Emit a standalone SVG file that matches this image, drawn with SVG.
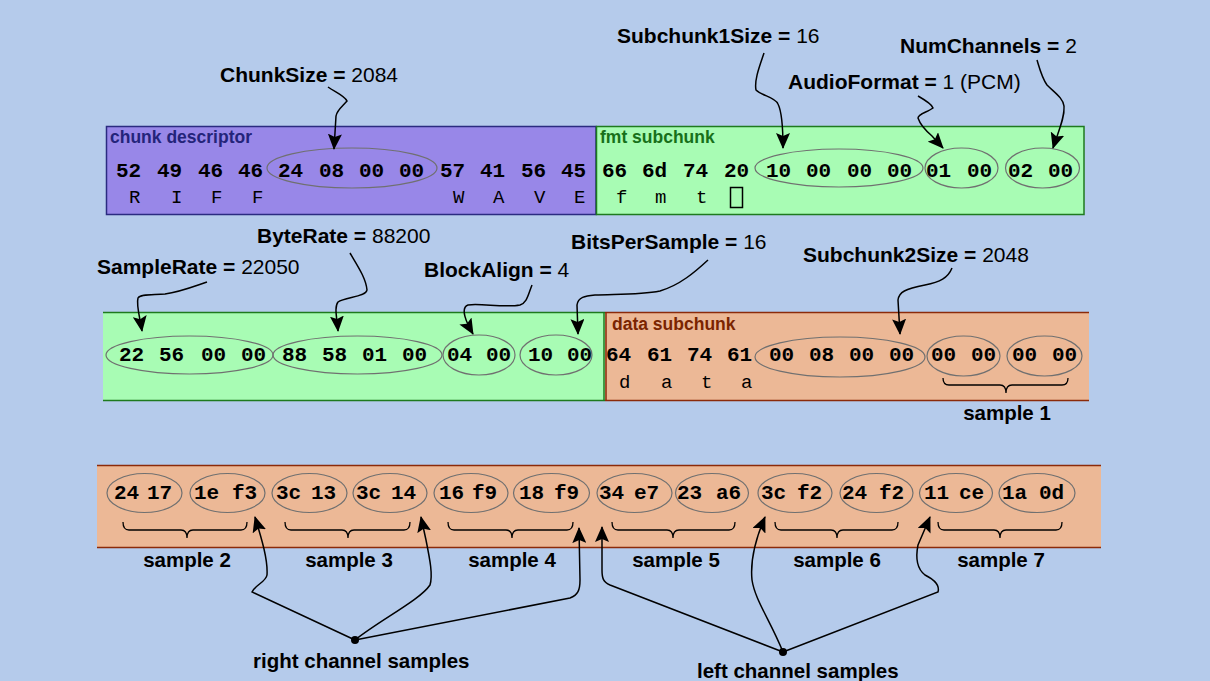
<svg xmlns="http://www.w3.org/2000/svg" width="1210" height="681" viewBox="0 0 1210 681">
<defs>
<style>
.hex{font-family:"Liberation Mono","Courier New",monospace;font-weight:bold;font-size:21px;fill:#000}
.chr{font-family:"Liberation Mono","Courier New",monospace;font-size:19px;fill:#000}
.lbl{font-family:"Liberation Sans",Arial,sans-serif;font-weight:bold;font-size:21px;fill:#000}
.lbl tspan.v{font-weight:normal}
.smp{font-family:"Liberation Sans",Arial,sans-serif;font-weight:bold;font-size:20.5px;fill:#000}
.ttl{font-family:"Liberation Sans",Arial,sans-serif;font-weight:bold;font-size:17.5px}
.ell{fill:none;stroke:#707070;stroke-width:1.2}
.con{fill:none;stroke:#000;stroke-width:1.5;marker-end:url(#ah)}
.brc{fill:none;stroke:#000;stroke-width:1.3}
</style>
<marker id="ah" viewBox="0 0 16 14" refX="15" refY="7" markerWidth="16" markerHeight="14" markerUnits="userSpaceOnUse" orient="auto"><path d="M0,0 L16,7 L0,14 L3,7 z" fill="#000"/></marker>
</defs>
<rect x="0" y="0" width="1210" height="681" fill="#B5CBEB"/>

<g id="chunk-descriptor">
<rect x="106.5" y="126.5" width="489.5" height="88" fill="#9887E8" stroke="#2B2B80" stroke-width="1.5"/>
<text class="ttl" x="110" y="143" fill="#24247A">chunk descriptor</text>
<ellipse class="ell" cx="352" cy="168" rx="85" ry="20"/>
<text class="hex" y="177"><tspan x="116">52</tspan><tspan x="157">49</tspan><tspan x="198">46</tspan><tspan x="238">46</tspan><tspan x="278">24</tspan><tspan x="319">08</tspan><tspan x="359">00</tspan><tspan x="399">00</tspan><tspan x="440">57</tspan><tspan x="480">41</tspan><tspan x="521">56</tspan><tspan x="561">45</tspan></text>
<text class="chr" y="203"><tspan x="129">R</tspan><tspan x="171">I</tspan><tspan x="211">F</tspan><tspan x="252">F</tspan><tspan x="453">W</tspan><tspan x="493">A</tspan><tspan x="534">V</tspan><tspan x="574">E</tspan></text>
</g>

<g id="fmt-subchunk">
<rect x="596.5" y="126.5" width="487.5" height="88" fill="#A8FCB4" stroke="#1E7A1E" stroke-width="1.5"/>
<text class="ttl" x="600" y="143" fill="#17701A">fmt subchunk</text>
<ellipse class="ell" cx="839" cy="168" rx="84" ry="19"/>
<ellipse class="ell" cx="961.5" cy="168" rx="36.5" ry="20"/>
<ellipse class="ell" cx="1042.5" cy="168" rx="37" ry="20"/>
<text class="hex" y="177"><tspan x="602">66</tspan><tspan x="642">6d</tspan><tspan x="683">74</tspan><tspan x="724">20</tspan><tspan x="766">10</tspan><tspan x="806">00</tspan><tspan x="847">00</tspan><tspan x="887">00</tspan><tspan x="926">01</tspan><tspan x="967">00</tspan><tspan x="1008">02</tspan><tspan x="1048">00</tspan></text>
<text class="chr" y="203"><tspan x="616">f</tspan><tspan x="655">m</tspan><tspan x="696">t</tspan></text>
<rect x="730.5" y="187.5" width="12" height="20" fill="none" stroke="#000" stroke-width="1.5"/>
</g>

<g id="fmt-subchunk-cont">
<rect x="103" y="312" width="502" height="89" fill="#A8FCB4"/>
<line x1="103" y1="312.5" x2="605" y2="312.5" stroke="#1E7A1E" stroke-width="1.5"/>
<line x1="103" y1="400.5" x2="605" y2="400.5" stroke="#1E7A1E" stroke-width="1.5"/>
<line x1="604" y1="312" x2="604" y2="401" stroke="#1E7A1E" stroke-width="1.5"/>
<ellipse class="ell" cx="189.5" cy="355" rx="83.5" ry="19"/>
<ellipse class="ell" cx="357.5" cy="355" rx="84.5" ry="19"/>
<ellipse class="ell" cx="479" cy="355" rx="36" ry="20"/>
<ellipse class="ell" cx="556" cy="355" rx="36" ry="20"/>
<text class="hex" y="361"><tspan x="119">22</tspan><tspan x="159">56</tspan><tspan x="201">00</tspan><tspan x="241">00</tspan><tspan x="282">88</tspan><tspan x="322">58</tspan><tspan x="362">01</tspan><tspan x="402">00</tspan><tspan x="447">04</tspan><tspan x="486">00</tspan><tspan x="528">10</tspan><tspan x="567">00</tspan></text>
</g>

<g id="data-subchunk">
<rect x="605" y="312" width="484" height="89" fill="#ECB896"/>
<line x1="605" y1="312.5" x2="1089" y2="312.5" stroke="#8B2A0A" stroke-width="1.5"/>
<line x1="605" y1="400.5" x2="1089" y2="400.5" stroke="#8B2A0A" stroke-width="1.5"/>
<line x1="606" y1="312" x2="606" y2="401" stroke="#8B2A0A" stroke-width="1.5"/>
<text class="ttl" x="612" y="330" fill="#7A2400">data subchunk</text>
<ellipse class="ell" cx="840" cy="357" rx="85" ry="20"/>
<ellipse class="ell" cx="963.5" cy="356" rx="36.5" ry="20"/>
<ellipse class="ell" cx="1044.5" cy="356" rx="37.5" ry="20"/>
<text class="hex" y="361"><tspan x="606">64</tspan><tspan x="647">61</tspan><tspan x="687">74</tspan><tspan x="727">61</tspan><tspan x="769">00</tspan><tspan x="809">08</tspan><tspan x="849">00</tspan><tspan x="889">00</tspan><tspan x="931">00</tspan><tspan x="971">00</tspan><tspan x="1012">00</tspan><tspan x="1052">00</tspan></text>
<text class="chr" y="388"><tspan x="619">d</tspan><tspan x="661">a</tspan><tspan x="701">t</tspan><tspan x="741">a</tspan></text>
<path class="brc" d="M943,378 Q943,385 949,385 L1000,385 Q1006,385 1006,393 Q1006,385 1012,385 L1062,385 Q1068,385 1068,378"/>
<text class="smp" x="1007" y="420" text-anchor="middle">sample 1</text>
</g>

<g id="data-samples">
<rect x="97" y="465" width="1004" height="83" fill="#ECB896"/>
<line x1="97" y1="465.5" x2="1101" y2="465.5" stroke="#8B2A0A" stroke-width="1.5"/>
<line x1="97" y1="547.5" x2="1101" y2="547.5" stroke="#8B2A0A" stroke-width="1.5"/>
<ellipse class="ell" cx="144.5" cy="493" rx="37.5" ry="19.5"/>
<ellipse class="ell" cx="227.5" cy="493" rx="37.5" ry="19.5"/>
<ellipse class="ell" cx="309.5" cy="493" rx="37.5" ry="19.5"/>
<ellipse class="ell" cx="390" cy="493" rx="37" ry="19.5"/>
<ellipse class="ell" cx="471" cy="493" rx="37" ry="19.5"/>
<ellipse class="ell" cx="551.5" cy="493" rx="38" ry="19.5"/>
<ellipse class="ell" cx="634.5" cy="493" rx="37.5" ry="19.5"/>
<ellipse class="ell" cx="712" cy="493" rx="36.5" ry="19.5"/>
<ellipse class="ell" cx="795" cy="493" rx="37" ry="19.5"/>
<ellipse class="ell" cx="876.5" cy="493" rx="36.5" ry="19.5"/>
<ellipse class="ell" cx="956" cy="493" rx="36.5" ry="19.5"/>
<ellipse class="ell" cx="1037" cy="493" rx="38" ry="19.5"/>
<text class="hex" y="499"><tspan x="114">24</tspan><tspan x="147">17</tspan><tspan x="194">1e</tspan><tspan x="232">f3</tspan><tspan x="276">3c</tspan><tspan x="311">13</tspan><tspan x="356">3c</tspan><tspan x="391">14</tspan><tspan x="439">16</tspan><tspan x="472">f9</tspan><tspan x="519">18</tspan><tspan x="554">f9</tspan><tspan x="599">34</tspan><tspan x="634">e7</tspan><tspan x="677">23</tspan><tspan x="716">a6</tspan><tspan x="761">3c</tspan><tspan x="797">f2</tspan><tspan x="842">24</tspan><tspan x="879">f2</tspan><tspan x="924">11</tspan><tspan x="959">ce</tspan><tspan x="1002">1a</tspan><tspan x="1039">0d</tspan></text>
<path class="brc" d="M123,522 Q123,530 129,530 L181,530 Q187,530 187,538 Q187,530 193,530 L241,530 Q247,530 247,522"/>
<path class="brc" d="M285,522 Q285,530 291,530 L342,530 Q348,530 348,538 Q348,530 354,530 L404,530 Q410,530 410,522"/>
<path class="brc" d="M448,522 Q448,530 454,530 L506,530 Q512,530 512,538 Q512,530 518,530 L567,530 Q573,530 573,522"/>
<path class="brc" d="M612,522 Q612,530 618,530 L667,530 Q673,530 673,538 Q673,530 679,530 L729,530 Q735,530 735,522"/>
<path class="brc" d="M775,522 Q775,530 781,530 L831,530 Q837,530 837,538 Q837,530 843,530 L892,530 Q898,530 898,522"/>
<path class="brc" d="M938,522 Q938,530 944,530 L994,530 Q1000,530 1000,538 Q1000,530 1006,530 L1056,530 Q1062,530 1062,522"/>
<text class="smp" y="567" text-anchor="middle"><tspan x="187">sample 2</tspan><tspan x="349">sample 3</tspan><tspan x="512">sample 4</tspan><tspan x="676">sample 5</tspan><tspan x="837">sample 6</tspan><tspan x="1001">sample 7</tspan></text>
</g>

<g id="labels">
<text class="lbl" x="220" y="82">ChunkSize = <tspan class="v">2084</tspan></text>
<text class="lbl" x="617" y="43">Subchunk1Size = <tspan class="v">16</tspan></text>
<text class="lbl" x="900" y="53">NumChannels = <tspan class="v">2</tspan></text>
<text class="lbl" x="788" y="89">AudioFormat = <tspan class="v">1 (PCM)</tspan></text>
<text class="lbl" x="257" y="243">ByteRate = <tspan class="v">88200</tspan></text>
<text class="lbl" x="97" y="274">SampleRate = <tspan class="v">22050</tspan></text>
<text class="lbl" x="424" y="277">BlockAlign = <tspan class="v">4</tspan></text>
<text class="lbl" x="571" y="249">BitsPerSample = <tspan class="v">16</tspan></text>
<text class="lbl" x="803" y="262">Subchunk2Size = <tspan class="v">2048</tspan></text>
<text class="smp" x="253" y="668">right channel samples</text>
<text class="smp" x="697" y="678">left channel samples</text>
</g>

<g id="connectors">
<path class="con" d="M328,87 C335,92 345,96 347,101 C343,106 337,110 336,116 L334,149"/>
<path class="con" d="M764,53 C760,65 754,80 756,90 C762,96 775,97 778,104 C782,112 783,125 783,148"/>
<path class="con" d="M918,96 C925,100 932,104 933,108 C928,112 918,114 918,118 C920,124 925,130 932,136 L943,148"/>
<path class="con" d="M1037,60 C1040,70 1042,78 1047,85 C1055,93 1063,98 1064,106 C1065,118 1058,132 1053,148"/>
<path class="con" d="M207,282 C195,286 180,292 165,294 C152,295 140,294 138,298 C136,305 140,318 142,331"/>
<path class="con" d="M350,253 C357,265 366,278 367,290 C366,297 345,297 338,302 C334,307 337,318 338,331"/>
<path class="con" d="M532,285 C528,295 527,303 520,305 C505,308 480,303 468,305 C460,308 466,322 473,334"/>
<path class="con" d="M708,260 C695,272 680,285 660,291 C640,295 615,294 595,295 C585,296 578,297 577,305 L578,334"/>
<path class="con" d="M952,268 C948,278 940,282 925,285 C905,289 899,292 898,300 L900,334"/>
<path class="con" d="M355,640 L252,592 C255,585 266,582 267,575 C268,560 262,540 255,517"/>
<path class="con" d="M355,640 C380,620 420,600 430,585 C433,575 430,560 426,540 L421,517"/>
<path class="con" d="M355,640 L570,598 C578,595 580,590 580,580 L579,528"/>
<path class="con" d="M783,652 L610,585 C603,582 602,578 602,570 L602,527"/>
<path class="con" d="M783,652 C770,620 755,600 752,580 C750,560 755,540 765,517"/>
<path class="con" d="M783,652 L938,592 C940,585 935,580 925,575 C916,568 916,555 918,545 L930,517"/>
<circle cx="355" cy="640" r="4" fill="#000"/>
<circle cx="783" cy="652" r="4" fill="#000"/>
</g>
</svg>
